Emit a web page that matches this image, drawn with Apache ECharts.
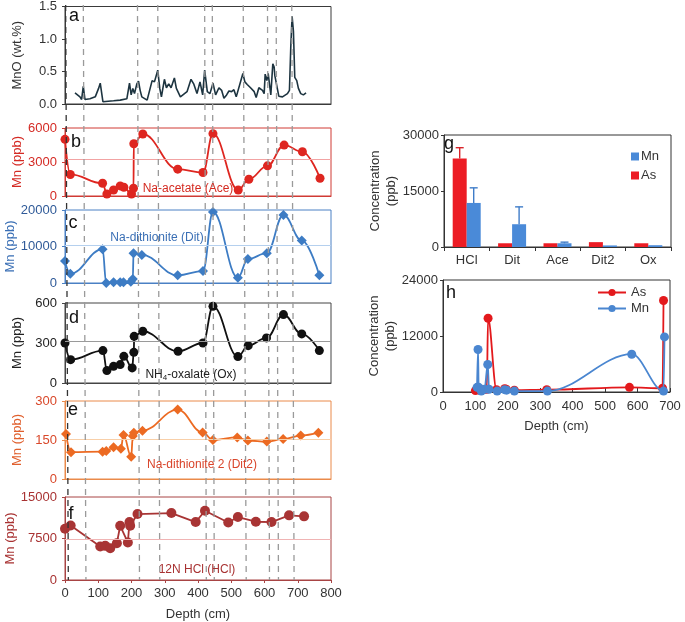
<!DOCTYPE html>
<html>
<head>
<meta charset="utf-8">
<script src="https://cdn.jsdelivr.net/npm/echarts@6/dist/echarts.min.js"></script>
<style>html,body{margin:0;padding:0;background:#fff}#c{width:685px;height:622px}</style>
</head>
<body>
<div id="c"></div>
<script>
// ---------- DATA ----------
// Panel a: MnO (wt.%) vs depth
const mnoDepth = [30,45,50,55,60,75,91,101,106,109,114,146,166,186,194,199,204,209,216,221,226,231,247,262,269,279,285,290,299,305,312,319,329,335,347,367,379,387,397,406,414,420,428,436,445,453,463,471,478,486,493,501,508,515,521,535,541,548,558,569,575,583,594,599,602,607,611,615,619,625,629,631,637,643,654,669,675,679,683,687,691,697,702,709,717,725];
const mnoVal = [0.17,0.11,0.07,0.27,0.07,0.08,0.11,0.24,0.32,0.31,0.035,0.05,0.06,0.08,0.32,0.14,0.24,0.16,0.31,0.35,0.21,0.11,0.06,0.36,0.34,0.52,0.24,0.11,0.38,0.25,0.31,0.25,0.40,0.24,0.11,0.19,0.38,0.31,0.16,0.34,0.14,0.52,0.19,0.16,0.32,0.14,0.25,0.21,0.09,0.14,0.20,0.19,0.22,0.11,0.10,0.47,0.34,0.30,0.25,0.19,0.10,0.25,0.21,0.16,0.46,0.36,0.47,0.46,0.14,0.62,0.57,0.44,0.45,0.12,0.11,0.16,0.21,0.87,1.35,1.12,0.41,0.36,0.24,0.16,0.14,0.17];
// Panel b: Na-acetate (Ace)
const aceDepth = [0,16,113,126,146,166,177,200,206,207,234,339,415,445,521,553,609,659,714,767];
const aceMn = [5000,1900,1120,180,530,890,770,180,680,4610,5470,2370,2070,5500,530,1480,2660,4490,3900,1570];
// Panel c: Na-dithionite (Dit)
const ditDepth = [0,16,113,124,146,166,176,198,204,206,231,339,415,445,520,550,607,657,712,765];
const ditMn = [6000,2550,9270,0,180,180,180,360,1090,8180,7700,2090,3270,19450,1450,6550,8180,18640,11640,2090];
// Panel d: NH4-oxalate (Ox)
const oxDepth = [0,17,114,126,146,166,177,202,207,208,234,340,415,445,520,551,606,657,712,765];
const oxMn = [300,175,243,93,125,138,200,113,230,350,388,238,300,575,198,280,338,513,368,243];
// Panel e: Na-dithionite 2 (Dit2)
const dit2Depth = [3,18,113,124,146,168,176,199,204,207,233,339,414,445,518,550,607,656,709,762];
const dit2Mn = [173,103,105,108,122,116,169,86,165,178,186,267,179,150,160,148,144,154,167,178];
// Panel f: 12N HCl (HCl)
const hclDepth = [0,17,106,121,136,156,166,189,194,196,218,320,393,421,491,520,574,621,674,719];
const hclMn = [9250,9860,6050,6170,5750,6650,9800,6780,10470,9800,11920,12100,10470,12520,10400,11370,10530,10470,11680,11500];
// Horizontal reference lines (b..f)
const refLines = [3250, 10450, 310, 154, 7440];
// Vertical dashed marker depths (top of panel a / bottom of panel f)
const dashTop = [2,55,218,279,420,443,536,609,635,682];
const dashBottom = [10,63,224,285,425,449,545,615,642,689];
// Panel g: fractions
const gCats = ['HCl','Dit','Ace','Dit2','Ox'];
const gAs = [23700,1000,1000,1300,1000];
const gMn = [11800,6100,1000,420,480];
const gAsErr = [2900,0,0,0,0];
const gMnErr = [4050,4650,300,0,0];
// Panel h: concentration vs depth
const hAsDepth = [100,107,112,125,135,139,165,190,195,220,320,575,677,680];
const hAsVal = [300,800,400,500,600,15800,500,700,600,400,500,1000,800,19600];
const hMnDepth = [105,108,110,118,128,138,142,167,190,196,220,322,582,680,683];
const hMnVal = [1000,9100,1000,200,600,5900,600,200,500,400,200,200,8100,200,11800];

// ---------- BUILD ----------
const FONT = '"Liberation Sans", Arial, sans-serif';
const zip = (a, b) => a.map((v, i) => [v, b[i]]);
const plain = v => String(v);

const chart = echarts.init(document.getElementById('c'), null, {renderer: 'canvas'});

const leftPanels = [
  {top: 5,   height: 99, box: '#3a3a3a'},
  {top: 128, height: 68, box: '#d03a34'},
  {top: 210, height: 73, box: '#4a80c4'},
  {top: 303, height: 80, box: '#444444'},
  {top: 401, height: 78, box: '#ea8a4a'},
  {top: 497, height: 83, box: '#a84444'}
];

const grid = leftPanels.map(p => ({left: 65, right: 354, top: p.top, height: p.height, show: true, borderColor: p.box, borderWidth: 1, containLabel: false}));
grid.push({left: 444, right: 14, top: 135, height: 112, show: true, borderColor: '#333', borderWidth: 1});
grid.push({left: 443, right: 15, top: 280, height: 112, show: true, borderColor: '#333', borderWidth: 1});
grid.push({left: 65, right: 354, top: 5, height: 575, show: false});

const xAxis = leftPanels.map((p, i) => ({
  gridIndex: i, type: 'value', min: 0, max: 800, interval: 100,
  axisLine: {show: true, lineStyle: {color: p.box}},
  axisTick: {show: i === 5, length: 3, lineStyle: {color: p.box}},
  axisLabel: {show: i === 5, color: '#333', fontSize: 13, fontFamily: FONT, margin: 7, formatter: plain},
  splitLine: {show: false},
  name: i === 5 ? 'Depth (cm)' : '', nameLocation: 'middle', nameGap: 28,
  nameTextStyle: {color: '#333', fontSize: 13, fontFamily: FONT}
}));
xAxis.push({
  gridIndex: 6, type: 'category', data: gCats,
  axisLine: {show: true, lineStyle: {color: '#333'}},
  axisTick: {show: true, length: 4, alignWithLabel: false, lineStyle: {color: '#333'}},
  axisLabel: {color: '#333', fontSize: 13, fontFamily: FONT, margin: 7}
});
xAxis.push({
  gridIndex: 7, type: 'value', min: 0, max: 700, interval: 100,
  axisLine: {show: true, lineStyle: {color: '#333'}},
  axisTick: {show: true, length: 4, inside: true, lineStyle: {color: '#333'}},
  axisLabel: {color: '#333', fontSize: 13, fontFamily: FONT, margin: 8, formatter: plain},
  splitLine: {show: false},
  name: 'Depth (cm)', nameLocation: 'middle', nameGap: 28,
  nameTextStyle: {color: '#333', fontSize: 13, fontFamily: FONT}
});
xAxis.push({gridIndex: 8, type: 'value', min: 0, max: 800, show: false});

function leftY(i, max, interval, name, nameColor, labelColor, fmt) {
  return {
    gridIndex: i, type: 'value', min: 0, max: max, interval: interval,
    name: name, nameLocation: 'middle', nameGap: 41,
    nameTextStyle: {color: nameColor, fontSize: 13, fontFamily: FONT},
    axisLine: {show: true, lineStyle: {color: leftPanels[i].box}},
    axisTick: {show: true, length: 3, lineStyle: {color: leftPanels[i].box}},
    axisLabel: {color: labelColor, fontSize: 13, fontFamily: FONT, margin: 8, formatter: fmt || plain},
    splitLine: {show: false}
  };
}
const yAxis = [
  leftY(0, 1.5, 0.5, 'MnO (wt.%)', '#333', '#333', v => v.toFixed(1)),
  leftY(1, 6000, 3000, 'Mn (ppb)', '#d42a24', '#d42a24'),
  leftY(2, 20000, 10000, 'Mn (ppb)', '#3a6fb5', '#2f5a98'),
  leftY(3, 600, 300, 'Mn (ppb)', '#222', '#222'),
  leftY(4, 300, 150, 'Mn (ppb)', '#e0602e', '#d9482a'),
  leftY(5, 15000, 7500, 'Mn (ppb)', '#a83232', '#a83232')
];
[6, 7].forEach(gi => {
  yAxis.push({
    gridIndex: gi, type: 'value', min: 0, max: gi === 6 ? 30000 : 24000, interval: gi === 6 ? 15000 : 12000,
    name: 'Concentration\n(ppb)', nameLocation: 'middle', nameGap: 32,
    nameTextStyle: {color: '#333', fontSize: 13, fontFamily: FONT, lineHeight: 16},
    axisLine: {show: true, lineStyle: {color: '#333'}},
    axisTick: {show: true, length: 3, lineStyle: {color: '#333'}},
    axisLabel: {color: '#333', fontSize: 13, fontFamily: FONT, margin: 5, formatter: plain},
    splitLine: {show: false}
  });
});
yAxis.push({gridIndex: 8, type: 'value', min: 0, max: 1, show: false});

function refLine(v, color) {
  return {silent: true, symbol: ['none', 'none'], label: {show: false},
    lineStyle: {color: color, type: 'solid', width: 1}, data: [{yAxis: v}]};
}
function leftSeries(i, depth, vals, color, symbol, smooth, refColor, ref, size) {
  return {
    type: 'line', xAxisIndex: i, yAxisIndex: i, data: zip(depth, vals),
    smooth: smooth, smoothMonotone: 'x', symbol: symbol, symbolSize: size || 9,
    lineStyle: {color: color, width: 1.8}, itemStyle: {color: color}, z: 3,
    markLine: refLine(ref, refColor)
  };
}

const series = [];
series.push({
  type: 'line', xAxisIndex: 0, yAxisIndex: 0, data: zip(mnoDepth, mnoVal),
  symbol: 'none', lineStyle: {color: '#1d3440', width: 1.6}, z: 3
});
series.push(leftSeries(1, aceDepth, aceMn, '#de2620', 'circle', 0.4, '#f2a3a3', refLines[0]));
series.push(leftSeries(2, ditDepth, ditMn, '#3d7cc4', 'diamond', 0.4, '#b5d0ee', refLines[1], 10));
series.push(leftSeries(3, oxDepth, oxMn, '#111', 'circle', 0.4, '#9a9a9a', refLines[2]));
series.push(leftSeries(4, dit2Depth, dit2Mn, '#ec6a22', 'diamond', 0.4, '#f8cfa8', refLines[3], 10));
series.push(leftSeries(5, hclDepth, hclMn, '#a83434', 'circle', false, '#f0b4b4', refLines[4], 10));

// dashed vertical markers across all left panels
series.push({
  type: 'line', xAxisIndex: 8, yAxisIndex: 8, data: [], z: 1, silent: true,
  markLine: {
    silent: true, symbol: ['none', 'none'], label: {show: false}, animation: false,
    lineStyle: {color: '#9a9a9a', type: [6, 5], width: 1.3},
    data: dashTop.map((d, i) => [
      {coord: [d, 1], lineStyle: i === 0 ? {color: '#333', type: [6, 5], width: 1.3} : undefined},
      {coord: [dashBottom[i], 0]}
    ])
  }
});

// panel g bars
const BW = 14;
series.push({name: 'As', type: 'bar', xAxisIndex: 6, yAxisIndex: 6, data: gAs, barWidth: BW, barGap: '0%', itemStyle: {color: '#ec1c24'}, z: 3});
series.push({name: 'Mn', type: 'bar', xAxisIndex: 6, yAxisIndex: 6, data: gMn, barWidth: BW, barGap: '0%', itemStyle: {color: '#4a8ad8'}, z: 3});
function errSeries(vals, errs, offset, color) {
  return {
    type: 'custom', xAxisIndex: 6, yAxisIndex: 6, z: 4, silent: true,
    data: vals.map((v, i) => [i, v, errs[i]]),
    encode: {x: 0, y: 1},
    renderItem: function (params, api) {
      const i = api.value(0), v = api.value(1), e = api.value(2);
      if (!e) return null;
      const b = api.coord([i, v]);
      const t = api.coord([i, v + e]);
      const x = b[0] + offset;
      return {type: 'group', children: [
        {type: 'line', shape: {x1: x, y1: b[1], x2: x, y2: t[1]}, style: {stroke: color, lineWidth: 1.4}},
        {type: 'line', shape: {x1: x - 4, y1: t[1], x2: x + 4, y2: t[1]}, style: {stroke: color, lineWidth: 1.4}}
      ]};
    }
  };
}
series.push(errSeries(gAs, gAsErr, -BW / 2, '#d8242a'));
series.push(errSeries(gMn, gMnErr, BW / 2, '#3f7cc8'));

// panel h
series.push({name: 'As (h)', type: 'line', xAxisIndex: 7, yAxisIndex: 7, data: zip(hAsDepth, hAsVal),
  smooth: 0.35, smoothMonotone: 'x', symbol: 'circle', symbolSize: 9,
  lineStyle: {color: '#e3191c', width: 1.8}, itemStyle: {color: '#e3191c'}, z: 3});
series.push({name: 'Mn (h)', type: 'line', xAxisIndex: 7, yAxisIndex: 7, data: zip(hMnDepth, hMnVal),
  smooth: 0.35, smoothMonotone: 'x', symbol: 'circle', symbolSize: 9,
  lineStyle: {color: '#4a86d0', width: 1.8}, itemStyle: {color: '#4a86d0'}, z: 4});

function txt(text, x, y, color, size) {
  return {type: 'text', silent: true, z: 10,
    style: {text: text, x: x, y: y, fill: color, font: (size || 12) + 'px ' + FONT, textAlign: 'center', textVerticalAlign: 'middle'}};
}
const graphic = [
  txt('a', 74, 16, '#111', 18), txt('b', 76, 142, '#111', 18), txt('c', 73, 223, '#111', 18),
  txt('d', 74, 318, '#111', 18), txt('e', 73, 410, '#111', 18), txt('f', 71, 514, '#111', 18),
  txt('g', 449, 144, '#111', 18), txt('h', 451, 293, '#111', 18),
  txt('Na-acetate (Ace)', 188, 189, '#d42a20', 12),
  txt('Na-dithionite (Dit)', 157, 238, '#3a6fb5', 12),
  txt('Na-dithionite 2 (Dit2)', 202, 465, '#d9452b', 12),
  txt('12N HCl (HCl)', 197, 570, '#a83232', 12),
  {type: 'text', silent: true, z: 10,
    style: {x: 191, y: 375, textAlign: 'center', textVerticalAlign: 'middle',
      text: '{a|NH}{s|4}{a|-oxalate (Ox)}',
      rich: {a: {fontSize: 12, fontFamily: FONT, fill: '#222', color: '#222'},
             s: {fontSize: 8, fontFamily: FONT, fill: '#222', color: '#222', padding: [6, 0, 0, 0]}}}}
];

const option = {
  animation: false,
  backgroundColor: '#fff',
  textStyle: {fontFamily: FONT},
  grid: grid, xAxis: xAxis, yAxis: yAxis, series: series, graphic: graphic,
  legend: [
    {data: [{name: 'Mn', icon: 'rect'}, {name: 'As', icon: 'rect'}], orient: 'vertical', left: 626, top: 145,
      itemWidth: 8, itemHeight: 8, itemGap: 6, selectedMode: false,
      textStyle: {fontSize: 13, color: '#333', fontFamily: FONT, padding: [0, 0, 0, -3]}},
    {data: ['As (h)', 'Mn (h)'], orient: 'vertical', left: 592, top: 281,
      itemWidth: 28, itemHeight: 9, itemGap: 3, selectedMode: false,
      formatter: n => n.replace(' (h)', ''),
      textStyle: {fontSize: 13, color: '#333', fontFamily: FONT}}
  ]
};
chart.setOption(option);
</script>
</body>
</html>
